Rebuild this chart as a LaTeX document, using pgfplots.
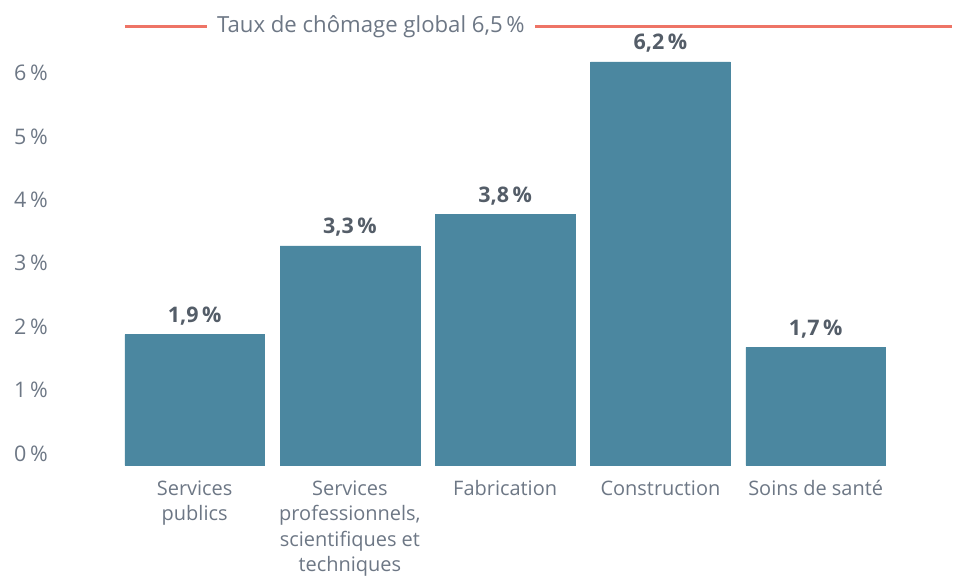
\documentclass[border=0pt]{standalone}
\usepackage{pgfplots}
\pgfplotsset{compat=1.18}
\usepackage{fontspec}
\setmainfont{Open Sans}
\definecolor{barc}{HTML}{4B87A0}
\definecolor{linec}{HTML}{EE7466}
\definecolor{tickc}{HTML}{6D7785}
\definecolor{valc}{HTML}{545D68}
\begin{document}
\begin{tikzpicture}
\begin{axis}[
  scale only axis, width=828bp, height=439bp,
  xmin=-0.45, xmax=4.875, ymin=-0.16, ymax=6.75,
  clip=false,
  axis line style={draw=none}, major tick length=0pt,
  /pgf/number format/assume math mode=true,
  bar width=140bp, bar shift=0pt,
  xtick={0,1,2,3,4},
  xticklabels={{Services\\publics},{Services\\professionnels,\\scientifiques et\\techniques},{Fabrication},{Construction},{Soins de santé}},
  xticklabel style={font=\fontsize{20bp}{25.5bp}\selectfont, text=tickc, align=center, anchor=north, inner sep=0pt, yshift=-15bp},
  ytick={0,1,2,3,4,5,6},
  yticklabels={0\,\%,1\,\%,2\,\%,3\,\%,4\,\%,5\,\%,6\,\%},
  yticklabel style={font=\fontsize{21.5bp}{25bp}\selectfont, text=tickc, anchor=west, inner sep=0pt, xshift=-111bp, yshift=1.5bp},
]
% bar bases drawn slightly below zero as in the reference
\addplot[ybar, fill=barc, draw=barc, line width=0.4bp, forget plot]
  coordinates {(0,-0.16) (1,-0.16) (2,-0.16) (3,-0.16) (4,-0.16)};
\addplot[ybar, fill=barc, draw=barc, line width=0.4bp,
  nodes near coords={\pgfmathprintnumber[fixed,fixed zerofill,precision=1,use comma]{\pgfplotspointmeta}\,\%},
  nodes near coords style={font=\bfseries\fontsize{21.5bp}{26bp}\selectfont, text=valc, anchor=south, inner sep=0pt, yshift=9bp}]
  coordinates {(0,1.9) (1,3.3) (2,3.8) (3,6.2) (4,1.7)};
% overall rate line
\addplot[sharp plot, draw=linec, line width=3bp, no markers, forget plot]
  coordinates {(-0.45,6.75) (4.875,6.75)};
\node[fill=white, inner xsep=10bp, inner ysep=3bp, text=tickc, font=\fontsize{22.2bp}{26bp}\selectfont] at (axis cs:1.135,6.75) {Taux de chômage global 6,5\,\%};
\end{axis}
\useasboundingbox (-125bp,-106bp) rectangle (828bp,466bp);
\end{tikzpicture}
\end{document}
